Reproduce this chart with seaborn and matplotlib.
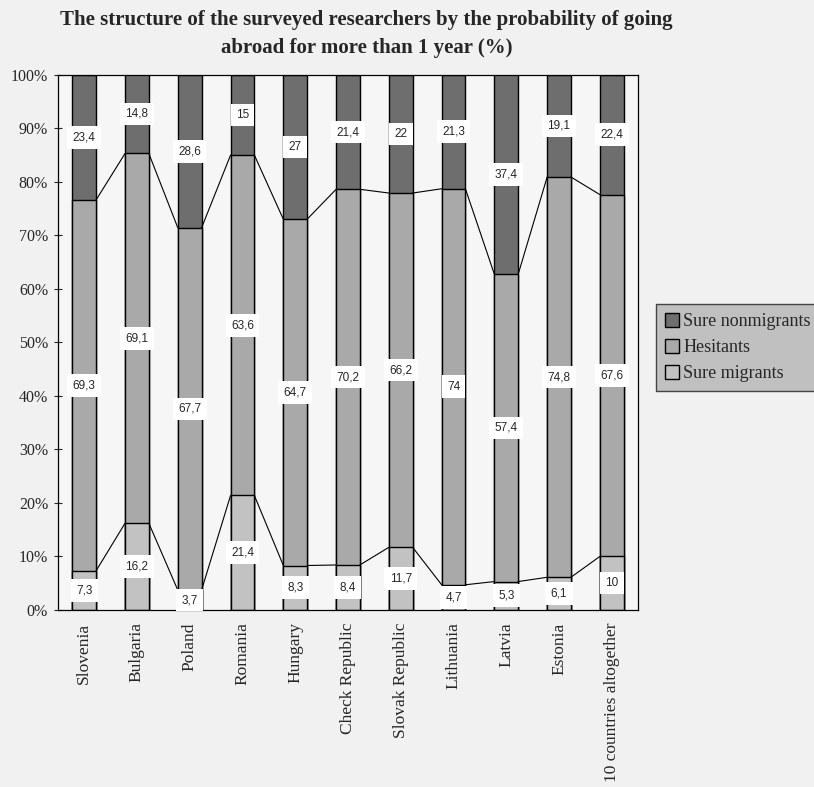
import numpy as np
import matplotlib
matplotlib.use("Agg")
import matplotlib.pyplot as plt
from matplotlib.patches import Patch
import seaborn as sns

countries = ["Slovenia", "Bulgaria", "Poland", "Romania", "Hungary", "Check Republic",
             "Slovak Republic", "Lithuania", "Latvia", "Estonia", "10 countries altogether"]
sure_migrants = [7.3, 16.2, 3.7, 21.4, 8.3, 8.4, 11.7, 4.7, 5.3, 6.1, 10]
hesitants = [69.3, 69.1, 67.7, 63.6, 64.7, 70.2, 66.2, 74, 57.4, 74.8, 67.6]
sure_nonmigrants = [23.4, 14.8, 28.6, 15, 27, 21.4, 22, 21.3, 37.4, 19.1, 22.4]

sns.set_style("white")
plt.rcParams['font.family'] = ['Liberation Serif', 'DejaVu Serif']

mig = np.array(sure_migrants)
hes = np.array(hesitants)
non = np.array(sure_nonmigrants)
low = mig
mid = mig + hes
top = mig + hes + non

c_non, c_hes, c_mig = "#6e6e6e", "#a9a9a9", "#c2c2c2"
bw = 0.45

fig = plt.figure(figsize=(8.14, 7.87), dpi=100, facecolor="#f1f1f1")
ax = fig.add_axes([0.071, 0.225, 0.713, 0.680])
ax.set_facecolor("#f6f6f6")

# stacked bars drawn as overlapping cumulative totals
sns.barplot(x=countries, y=top, color=c_non, saturation=1, width=bw,
            edgecolor="black", linewidth=1, ax=ax)
sns.barplot(x=countries, y=mid, color=c_hes, saturation=1, width=bw,
            edgecolor="black", linewidth=1, ax=ax)
sns.barplot(x=countries, y=low, color=c_mig, saturation=1, width=bw,
            edgecolor="black", linewidth=1, ax=ax)

# series lines between neighbouring bars
for i in range(len(countries) - 1):
    for cum in (low, mid):
        ax.plot([i + bw / 2, i + 1 - bw / 2], [cum[i], cum[i + 1]],
                color="black", linewidth=0.8)

def fmt(v):
    s = f"{v:g}"
    return s.replace(".", ",")

box = dict(boxstyle="square,pad=0.45", fc="white", ec="none")
for i in range(len(countries)):
    for val, base in ((mig[i], 0), (hes[i], low[i]), (non[i], mid[i])):
        ax.text(i, base + val / 2, fmt(val), ha="center", va="center",
                fontsize=8.5, family="Liberation Sans", bbox=box)

ax.set_xlim(-0.5, len(countries) - 0.5)
ax.set_ylim(0, 100)
ax.set_yticks(np.arange(0, 101, 10))
ax.set_yticklabels([f"{t}%" for t in range(0, 101, 10)], fontsize=11.5)
ax.set_xticks(range(len(countries)))
ax.set_xticklabels(countries, rotation=90, fontsize=12.5)
ax.set_xticks(np.arange(0.5, len(countries) - 0.5, 1), minor=True)
ax.tick_params(axis="x", which="major", length=0, pad=9)
ax.tick_params(axis="x", which="minor", length=7, direction="inout", width=0.8)
ax.tick_params(axis="y", length=6, direction="inout", width=0.8, left=True, pad=4)
for sp in ax.spines.values():
    sp.set_visible(True)
    sp.set_color("black")
    sp.set_linewidth(0.9)

fig.suptitle("The structure of the surveyed researchers by the probability of going\n"
             "abroad for more than 1 year (%)", x=0.45, y=0.987,
             fontsize=15, fontweight="bold", linespacing=1.55)

handles = [Patch(facecolor=c_non, edgecolor="black", label="Sure nonmigrants"),
           Patch(facecolor=c_hes, edgecolor="black", label="Hesitants"),
           Patch(facecolor=c_mig, edgecolor="black", label="Sure migrants")]
leg = fig.legend(handles=handles, loc="center left", bbox_to_anchor=(0.806, 0.558),
                 frameon=True, fancybox=False, fontsize=13, handlelength=0.75,
                 handleheight=0.75, handletextpad=0.25, labelspacing=0.5,
                 borderpad=0.5, borderaxespad=0)
leg.get_frame().set_facecolor("#c0c0c0")
leg.get_frame().set_edgecolor("#444444")
leg.get_frame().set_alpha(1)

fig.savefig("out.png", dpi=100, facecolor=fig.get_facecolor())
